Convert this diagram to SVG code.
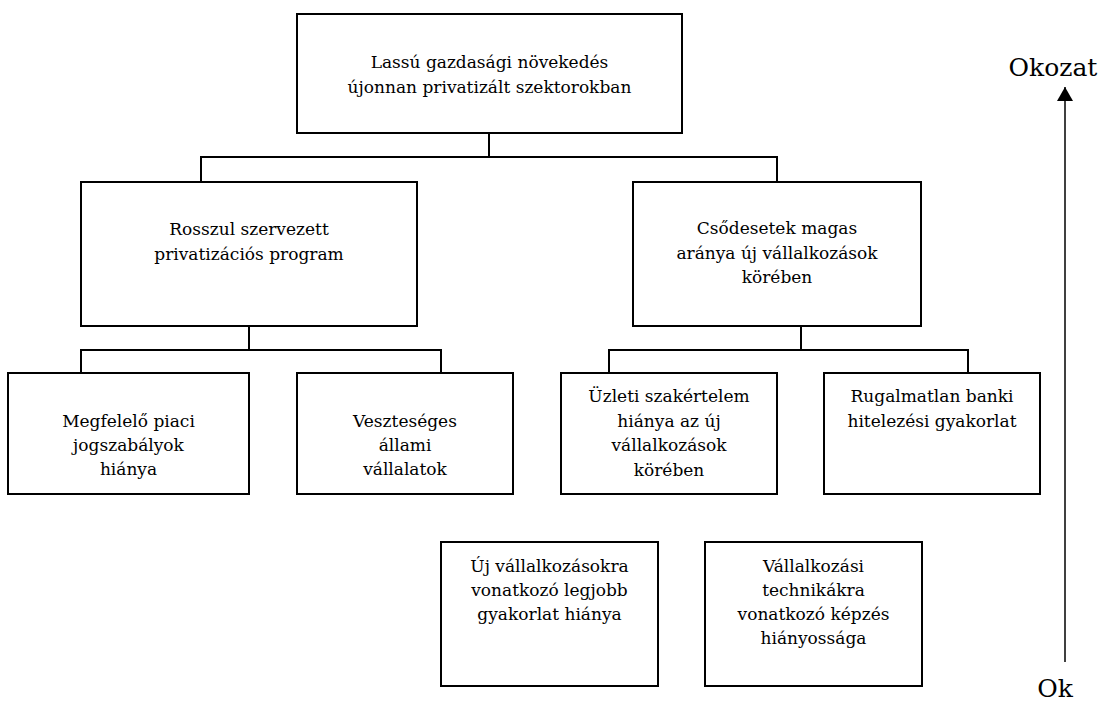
<svg xmlns="http://www.w3.org/2000/svg" width="1102" height="702" viewBox="0 0 1102 702">
<defs>
<style>
.box{fill:#fff;stroke:#000;stroke-width:2}
.ln{fill:none;stroke:#000;stroke-width:2}
text{font-family:"DejaVu Serif",serif;font-size:17px;fill:#000;text-anchor:middle}
.big{font-size:25px}
</style>
<marker id="ah" viewBox="0 0 14 16" refX="14" refY="8" markerWidth="14" markerHeight="16" markerUnits="userSpaceOnUse" orient="auto"><path d="M0,0 L14,8 L0,16 Z" fill="#000"/></marker>
</defs>
<rect width="1102" height="702" fill="#fff"/>
<g id="connectors">
<path class="ln" d="M489,133 V157 M201,182 V157 H777 V182"/>
<path class="ln" d="M249,326 V350 M81,373 V350 H441 V373"/>
<path class="ln" d="M801,326 V350 M609,373 V350 H968 V373"/>
<line x1="1065" y1="662" x2="1065" y2="87" stroke="#000" stroke-width="1.5" marker-end="url(#ah)"/>
</g>
<g id="n-top"><rect class="box" x="297" y="14" width="385" height="119"/>
<text x="489.5" y="68">Lassú gazdasági növekedés</text><text x="489.5" y="92.5">újonnan privatizált szektorokban</text></g>
<g id="n-rosszul"><rect class="box" x="81" y="182" width="336" height="144"/>
<text x="249" y="235">Rosszul szervezett</text><text x="249" y="259.5">privatizációs program</text></g>
<g id="n-csod"><rect class="box" x="633" y="182" width="288" height="144"/>
<text x="777" y="234">Csődesetek magas</text><text x="777" y="258.5">aránya új vállalkozások</text><text x="777" y="283">körében</text></g>
<g id="n-megfelelo"><rect class="box" x="8" y="373" width="241" height="121"/>
<text x="128.5" y="427">Megfelelő piaci</text><text x="128.5" y="451">jogszabályok</text><text x="128.5" y="475">hiánya</text></g>
<g id="n-veszteseges"><rect class="box" x="297" y="373" width="216" height="121"/>
<text x="405" y="427">Veszteséges</text><text x="405" y="451">állami</text><text x="405" y="475">vállalatok</text></g>
<g id="n-uzleti"><rect class="box" x="561" y="373" width="216" height="121"/>
<text x="669" y="402">Üzleti szakértelem</text><text x="669" y="426.5">hiánya az új</text><text x="669" y="451">vállalkozások</text><text x="669" y="475.5">körében</text></g>
<g id="n-rugalmatlan"><rect class="box" x="824" y="373" width="216" height="121"/>
<text x="932" y="402">Rugalmatlan banki</text><text x="932" y="426.5">hitelezési gyakorlat</text></g>
<g id="n-uj"><rect class="box" x="441" y="542" width="217" height="144"/>
<text x="549.5" y="572">Új vállalkozásokra</text><text x="549.5" y="596">vonatkozó legjobb</text><text x="549.5" y="620">gyakorlat hiánya</text></g>
<g id="n-vallalkozasi"><rect class="box" x="705" y="542" width="217" height="144"/>
<text x="813.5" y="572">Vállalkozási</text><text x="813.5" y="596">technikákra</text><text x="813.5" y="620">vonatkozó képzés</text><text x="813.5" y="644">hiányossága</text></g>
<g id="labels">
<text class="big" x="1053" y="76">Okozat</text>
<text class="big" x="1055" y="697">Ok</text>
</g>
</svg>
